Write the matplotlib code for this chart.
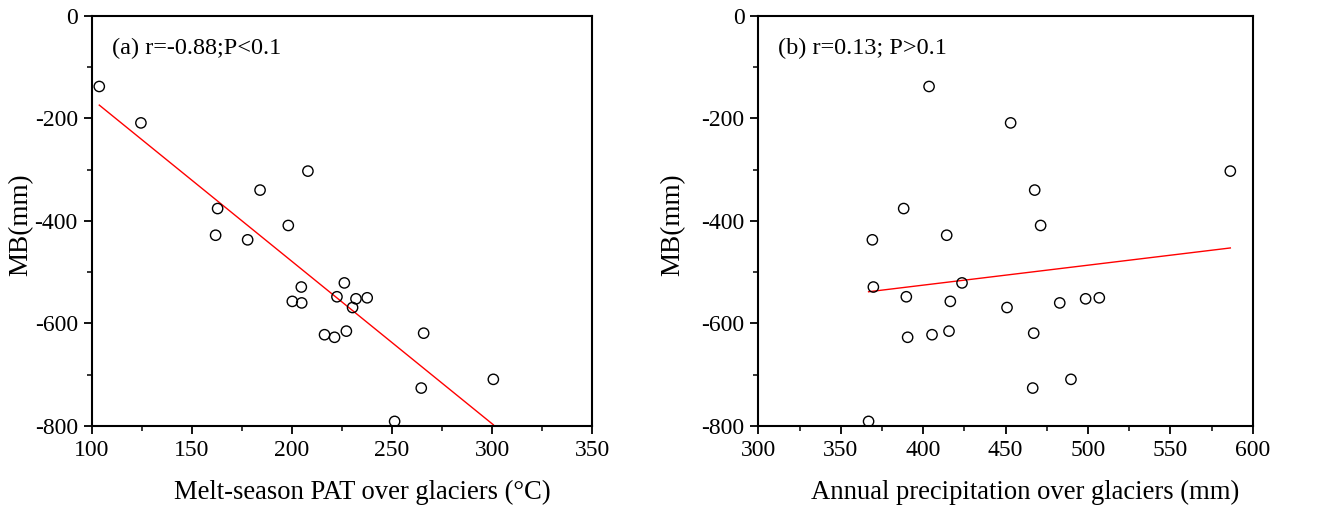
import numpy as np
import matplotlib
matplotlib.use("Agg")
import matplotlib.pyplot as plt
from matplotlib.ticker import MultipleLocator

plt.rcParams["font.family"] = ["Liberation Serif", "DejaVu Serif"]
plt.rcParams["axes.unicode_minus"] = False

# glacier mass balance (mm) and the two predictors, one entry per year
mb = [-138, -209, -376, -428, -340, -437, -303, -409, -529, -557, -560, -521,
      -548, -552, -569, -550, -622, -627, -615, -619, -726, -709, -791]
pat = [103.8, 124.6, 162.9, 161.9, 184.1, 177.9, 208.0, 198.2, 204.7, 200.2,
       204.9, 226.2, 222.5, 232.0, 230.3, 237.6, 216.3, 221.3, 227.2, 265.8,
       264.6, 300.6, 251.3]
prec = [403.6, 453.1, 388.2, 414.3, 467.7, 369.2, 586.4, 471.3, 369.8, 416.5,
        482.9, 423.6, 389.8, 498.6, 450.9, 506.9, 405.4, 390.6, 415.7, 467.1,
        466.5, 489.7, 366.9]

labels = ["(a) r=-0.88;P<0.1", "(b) r=0.13; P>0.1"]
xlabels = ["Melt-season PAT over glaciers (\u00b0C)", "Annual precipitation over glaciers (mm)"]
xlims = [(100, 350), (300, 600)]
ylab_x = [-0.117, -0.148]

fig = plt.figure(figsize=(13.17, 5.15), dpi=100)
ax1 = fig.add_axes([0.0696, 0.1728, 0.3801, 0.7967])
ax2 = fig.add_axes([0.5758, 0.1728, 0.3754, 0.7967])

for ax, x, lab, xl, lim, lx in zip([ax1, ax2], [pat, prec], labels, xlabels, xlims, ylab_x):
    x = np.array(x)
    y = np.array(mb)
    ax.scatter(x, y, s=55, facecolors="none", edgecolors="black", linewidths=1.0, zorder=3)
    k, b = np.polyfit(x, y, 1)
    xx = np.array([x.min(), x.max()])
    ax.plot(xx, k * xx + b, color="red", lw=1.0, zorder=2)

    ax.set_xlim(*lim)
    ax.set_ylim(-800, 0)
    ax.xaxis.set_major_locator(MultipleLocator(50))
    ax.xaxis.set_minor_locator(MultipleLocator(25))
    ax.yaxis.set_major_locator(MultipleLocator(200))
    ax.yaxis.set_minor_locator(MultipleLocator(100))
    ax.tick_params(which="major", direction="out", length=6, width=1.3, labelsize=17, pad=4)
    ax.tick_params(which="minor", direction="out", length=3.5, width=1.1)
    for sp in ax.spines.values():
        sp.set_linewidth(1.5)

    ax.set_xlabel(xl, fontsize=19.2, labelpad=14, x=0.54)
    ax.set_ylabel("MB(mm)", fontsize=19.5)
    ax.yaxis.set_label_coords(lx, 0.49)
    ax.text(0.04, 0.92, lab, transform=ax.transAxes, fontsize=17.5, va="center", ha="left")

fig.savefig("out.png", dpi=100)
